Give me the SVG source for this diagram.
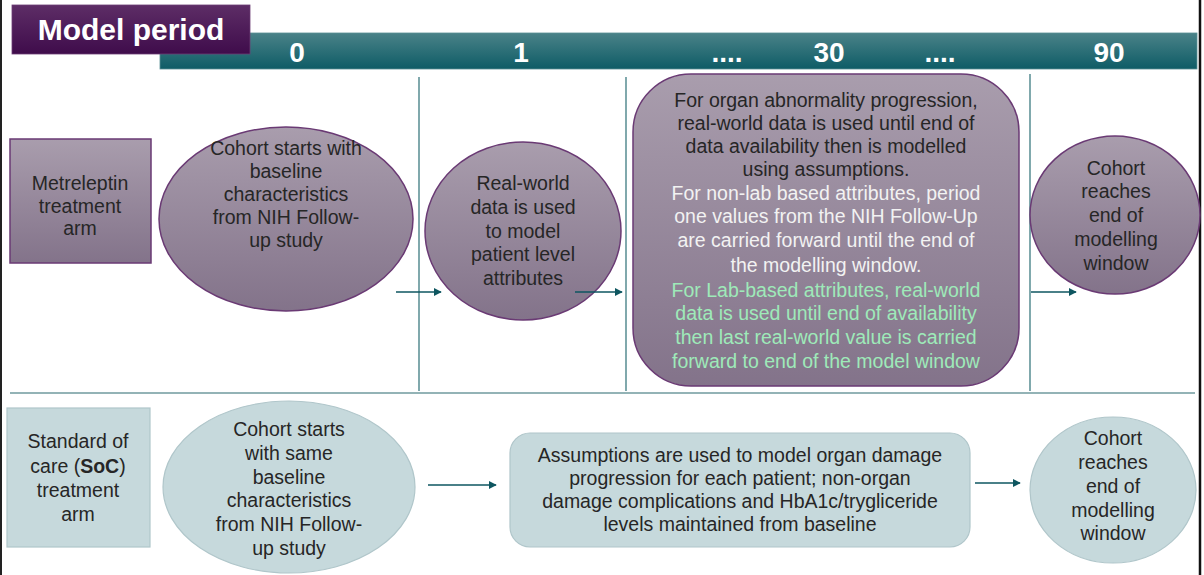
<svg xmlns="http://www.w3.org/2000/svg" width="1204" height="575" viewBox="0 0 1204 575">
<defs>
<linearGradient id="gp" x1="0" y1="0" x2="0" y2="1"><stop offset="0" stop-color="#a99dad"/><stop offset="1" stop-color="#83738a"/></linearGradient>
<linearGradient id="gh" x1="0" y1="0" x2="0" y2="1"><stop offset="0" stop-color="#5d2d66"/><stop offset="1" stop-color="#3f0c4b"/></linearGradient>
<linearGradient id="gt" x1="0" y1="0" x2="0" y2="1"><stop offset="0" stop-color="#4a8288"/><stop offset="1" stop-color="#0e5c66"/></linearGradient>
<marker id="ar" viewBox="0 0 10 10" refX="9" refY="5" markerWidth="8" markerHeight="8" markerUnits="userSpaceOnUse" orient="auto"><path d="M0,0 L10,5 L0,10 z" fill="#0e5660"/></marker>
<style>
.t{font-family:"Liberation Sans",Arial,sans-serif;font-size:19.5px;fill:#262626;text-anchor:middle}
.p{fill:url(#gp);stroke:#6a3a74;stroke-width:1.5}
.s{fill:#c6d9dc;stroke:#b0c6ca;stroke-width:1.2}
.c{stroke:#0e5660;stroke-width:1.5;fill:none;marker-end:url(#ar)}
.v{stroke:#3c7a80;stroke-width:1.3}
.w{fill:#f2f2f2}
.g{fill:#9eeab9}
.n{font-family:"Liberation Sans",Arial,sans-serif;font-size:28px;font-weight:bold;fill:#fff;text-anchor:middle}
</style>
</defs>
<rect width="1204" height="575" fill="#fff"/>
<line x1="1" y1="0" x2="1" y2="575" stroke="#222" stroke-width="2"/>
<line x1="1200" y1="0" x2="1200" y2="575" stroke="#111" stroke-width="2.5"/>

<g id="timeline">
<rect x="160" y="33" width="1037" height="36" fill="url(#gt)" stroke="#5b9095" stroke-width="0.8"/>
<text class="n" x="297" y="62">0</text>
<text class="n" x="521" y="62">1</text>
<text class="n" x="727" y="62">....</text>
<text class="n" x="829" y="62">30</text>
<text class="n" x="940" y="62">....</text>
<text class="n" x="1109" y="62">90</text>
</g>
<g id="header">
<rect x="12" y="5" width="238" height="49" fill="url(#gh)" stroke="#6b3c74" stroke-width="0.8"/>
<text x="131" y="40" font-family="Liberation Sans,Arial,sans-serif" font-size="30" font-weight="bold" fill="#fff" text-anchor="middle">Model period</text>
</g>

<g id="dividers">
<line class="v" x1="419" y1="77" x2="419" y2="391"/>
<line class="v" x1="626" y1="77" x2="626" y2="391"/>
<line class="v" x1="1030" y1="74" x2="1030" y2="391"/>
<line x1="10" y1="393" x2="1195" y2="393" stroke="#6f9a9e" stroke-width="1.5"/>
</g>

<g id="metreleptin-arm">
<rect class="p" x="10" y="139" width="141" height="124"/>
<text class="t" x="80" y="190">Metreleptin</text>
<text class="t" x="80" y="213">treatment</text>
<text class="t" x="80" y="235">arm</text>
</g>
<g id="m-start">
<ellipse class="p" cx="286" cy="219" rx="127" ry="92"/>
<text class="t" x="286" y="155">Cohort starts with</text>
<text class="t" x="286" y="178">baseline</text>
<text class="t" x="286" y="201">characteristics</text>
<text class="t" x="286" y="224">from NIH Follow-</text>
<text class="t" x="286" y="247">up study</text>
</g>
<g id="m-rw">
<ellipse class="p" cx="523" cy="231" rx="98" ry="89"/>
<text class="t" x="523" y="190">Real-world</text>
<text class="t" x="523" y="214">data is used</text>
<text class="t" x="523" y="238">to model</text>
<text class="t" x="523" y="261">patient level</text>
<text class="t" x="523" y="285">attributes</text>
</g>
<g id="m-detail">
<rect class="p" x="633" y="74" width="386" height="312" rx="58"/>
<text class="t" x="826" y="107">For organ abnormality progression,</text>
<text class="t" x="826" y="130">real-world data is used until end of</text>
<text class="t" x="826" y="153">data availability then is modelled</text>
<text class="t" x="826" y="176">using assumptions.</text>
<text class="t w" x="826" y="200">For non-lab based attributes, period</text>
<text class="t w" x="826" y="223">one values from the NIH Follow-Up</text>
<text class="t w" x="826" y="247">are carried forward until the end of</text>
<text class="t w" x="826" y="272">the modelling window.</text>
<text class="t g" x="826" y="297">For Lab-based attributes, real-world</text>
<text class="t g" x="826" y="320">data is used until end of availability</text>
<text class="t g" x="826" y="344">then last real-world value is carried</text>
<text class="t g" x="826" y="368">forward to end of the model window</text>
</g>
<g id="m-end">
<ellipse class="p" cx="1115" cy="215" rx="85" ry="79"/>
<text class="t" x="1116" y="175">Cohort</text>
<text class="t" x="1116" y="198">reaches</text>
<text class="t" x="1116" y="222">end of</text>
<text class="t" x="1116" y="246">modelling</text>
<text class="t" x="1116" y="270">window</text>
</g>

<g id="soc-arm">
<rect class="s" x="7" y="408" width="143" height="139"/>
<text class="t" x="78" y="448">Standard of</text>
<text class="t" x="78" y="473">care (<tspan font-weight="bold">SoC</tspan>)</text>
<text class="t" x="78" y="497">treatment</text>
<text class="t" x="78" y="521">arm</text>
</g>
<g id="s-start">
<ellipse class="s" cx="289" cy="487" rx="126" ry="86"/>
<text class="t" x="289" y="436">Cohort starts</text>
<text class="t" x="289" y="460">with same</text>
<text class="t" x="289" y="484">baseline</text>
<text class="t" x="289" y="507">characteristics</text>
<text class="t" x="289" y="531">from NIH Follow-</text>
<text class="t" x="289" y="555">up study</text>
</g>
<g id="s-detail">
<rect class="s" x="510" y="433" width="460" height="114" rx="20"/>
<text class="t" x="740" y="462">Assumptions are used to model organ damage</text>
<text class="t" x="740" y="485">progression for each patient; non-organ</text>
<text class="t" x="740" y="508">damage complications and HbA1c/trygliceride</text>
<text class="t" x="740" y="531">levels maintained from baseline</text>
</g>
<g id="s-end">
<ellipse class="s" cx="1113" cy="490" rx="83" ry="73"/>
<text class="t" x="1113" y="445">Cohort</text>
<text class="t" x="1113" y="469">reaches</text>
<text class="t" x="1113" y="493">end of</text>
<text class="t" x="1113" y="517">modelling</text>
<text class="t" x="1113" y="540">window</text>
</g>

<g id="connectors">
<line class="c" x1="396" y1="292" x2="441" y2="292"/>
<line class="c" x1="575" y1="292" x2="622" y2="292"/>
<line class="c" x1="1031" y1="292" x2="1076" y2="292"/>
<line class="c" x1="428" y1="485" x2="496" y2="485"/>
<line class="c" x1="975" y1="483" x2="1020" y2="483"/>
</g>
</svg>
